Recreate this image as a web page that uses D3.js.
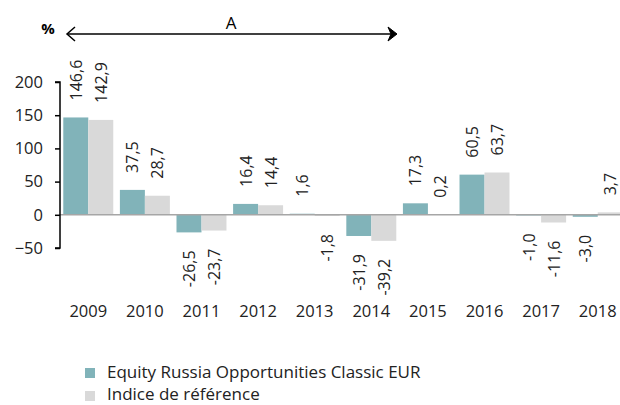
<!DOCTYPE html>
<html><head><meta charset="utf-8">
<script src="https://cdn.jsdelivr.net/npm/d3@7"></script>
<style>body{margin:0;background:#fff;} svg{display:block;font-family:"Open Sans",sans-serif;}</style>
</head><body>
<script>
const years = ["2009","2010","2011","2012","2013","2014","2015","2016","2017","2018"];
const fund = [146.6, 37.5, -26.5, 16.4, 1.6, -31.9, 17.3, 60.5, -1.0, -3.0];
const bench = [142.9, 28.7, -23.7, 14.4, -1.8, -39.2, 0.2, 63.7, -11.6, 3.7];
const seriesNames = ["Equity Russia Opportunities Classic EUR", "Indice de référence"];
const yTicks = [-50, 0, 50, 100, 150, 200];
const colors = ["#81b3b9", "#d9d9d9"];

const W = 620, H = 405;
const svg = d3.select("body").append("svg").attr("width", W).attr("height", H);

const x = d3.scaleBand().domain(years).range([60, 626]).paddingInner(0.117).paddingOuter(0.058);
const y = d3.scaleLinear().domain([-50, 200]).range([248, 82]);
const fmt = v => v.toFixed(1).replace(".", ",");

const data = [];
years.forEach((yr, i) => {
  data.push({yr, s: 0, v: fund[i]});
  data.push({yr, s: 1, v: bench[i]});
});
const bw = x.bandwidth() / 2;

svg.selectAll("rect.bar").data(data).join("rect")
  .attr("class", "bar")
  .attr("x", d => x(d.yr) + d.s * bw)
  .attr("width", bw)
  .attr("y", d => y(Math.max(0, d.v)))
  .attr("height", d => Math.abs(y(d.v) - y(0)))
  .attr("fill", d => colors[d.s]);

// zero line
svg.append("line").attr("x1", 60).attr("x2", W).attr("y1", y(0)).attr("y2", y(0))
  .attr("stroke", "#a6a6a6").attr("stroke-width", 1.5);

// y axis
const yAxis = svg.append("g").attr("transform", "translate(60,0)")
  .call(d3.axisLeft(y).tickValues(yTicks).tickSize(5).tickPadding(12));
yAxis.select(".domain").attr("stroke", "#000").attr("stroke-width", 1.5).attr("d", `M-5,${y(200)}H0V${y(-50)}H-5`);
yAxis.selectAll(".tick line").attr("stroke", "#000").attr("stroke-width", 1.5);
yAxis.selectAll(".tick text").attr("font-size", 16.5).attr("fill", "#222").attr("font-family", "Open Sans, sans-serif");

// x labels
svg.selectAll("text.xl").data(years).join("text").attr("class", "xl")
  .attr("x", d => x(d) + x.bandwidth() / 2).attr("y", 317)
  .attr("text-anchor", "middle").attr("font-size", 16.5).attr("fill", "#222").text(d => d);

// value labels
svg.selectAll("text.vl").data(data).join("text").attr("class", "vl")
  .attr("transform", d => {
    const cx = x(d.yr) + d.s * bw + bw / 2;
    const yy = d.v >= 0 ? y(d.v) - 17 : y(d.v) + 18;
    return `translate(${cx + 6},${yy}) rotate(-90)`;
  })
  .attr("text-anchor", d => d.v >= 0 ? "start" : "end")
  .attr("font-size", 16).attr("fill", "#222").text(d => fmt(d.v));

// percent sign
svg.append("text").attr("x", 48).attr("y", 34).attr("text-anchor", "middle")
  .attr("font-size", 15).attr("font-weight", "bold").text("%");

// arrow A
const ay = 34, ax1 = 67, ax2 = 397;
svg.append("line").attr("x1", ax1).attr("x2", ax2 - 3).attr("y1", ay).attr("y2", ay)
  .attr("stroke", "#000").attr("stroke-width", 1.5);
svg.append("path").attr("d", `M${ax1 + 8},${ay - 7} L${ax1},${ay} L${ax1 + 8},${ay + 7}`)
  .attr("fill", "none").attr("stroke", "#000").attr("stroke-width", 1.5);
svg.append("path").attr("d", `M${ax2 - 9},${ay - 7} L${ax2},${ay} L${ax2 - 9},${ay + 7} L${ax2 - 6},${ay} Z`)
  .attr("fill", "#000").attr("stroke", "#000").attr("stroke-width", 1);
svg.append("text").attr("x", 231).attr("y", 29).attr("text-anchor", "middle")
  .attr("font-size", 17).text("A");

// legend
const lg = svg.append("g");
seriesNames.forEach((n, i) => {
  lg.append("rect").attr("x", 85).attr("y", 368 + i * 23).attr("width", 10).attr("height", 10).attr("fill", colors[i]);
  lg.append("text").attr("x", 107).attr("y", 378 + i * 22).attr("font-size", 17).attr("fill", "#222").text(n);
});
</script>
</body></html>
